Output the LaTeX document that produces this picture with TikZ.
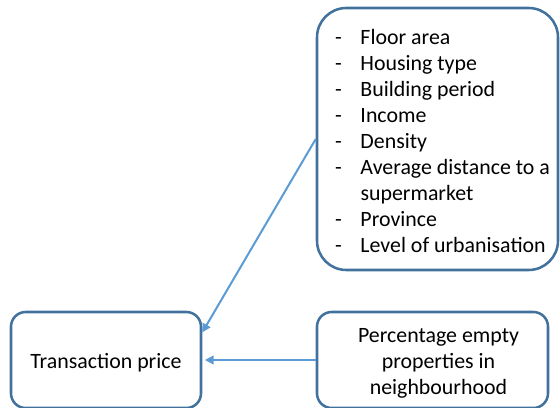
\documentclass[tikz,border=0pt]{standalone}
\usepackage{fontspec}
\setmainfont{Carlito}
\usetikzlibrary{arrows.meta}

\definecolor{boxline}{HTML}{41719C}
\definecolor{arrowline}{HTML}{5B9BD5}

% pad the text on the left by #1 and lower it by #2 inside its box
\newcommand{\nudge}[3]{\hspace*{#1}\raisebox{-#2}[\height][\depth]{#3}}

\begin{document}
\begin{tikzpicture}[x=0.75pt, y=0.75pt,
    box/.style={draw=boxline, line width=1.9pt, rounded corners=11pt, inner sep=0pt,
        align=center, font=\fontsize{16.4}{19.5}\selectfont},
    link/.style={draw=arrowline, line width=1.5pt, -{Triangle[length=6.5pt, width=6.5pt]}}]
    \useasboundingbox (0,0) rectangle (560,407);

    % explanatory variables
    \node[box, rounded corners=22pt, minimum width=180.75pt, minimum height=196.5pt] (factors) at (437.5, 268) {%
        \nudge{7.5pt}{3pt}{\begin{tabular}{@{}l@{\hspace{14pt}}l@{}}
            - & Floor area\\
            - & Housing type\\
            - & Building period\\
            - & Income\\
            - & Density\\
            - & Average distance to a\\
              & supermarket\\
            - & Province\\
            - & Level of urbanisation
        \end{tabular}}};
    \node[box, minimum width=142.5pt, minimum height=72pt] (price) at (106, 47) {\nudge{0pt}{2.25pt}{Transaction price}};
    \node[box, minimum width=173.25pt, minimum height=72pt] (empty) at (432.5, 47) {%
        \nudge{9pt}{2.25pt}{\begin{tabular}{@{}c@{}}Percentage empty\\properties in\\neighbourhood\end{tabular}}};

    \draw[link] (factors.west) -- (price.16);
    \draw[link, shorten >=2pt] (empty.west) -- (price.east);
\end{tikzpicture}
\end{document}
